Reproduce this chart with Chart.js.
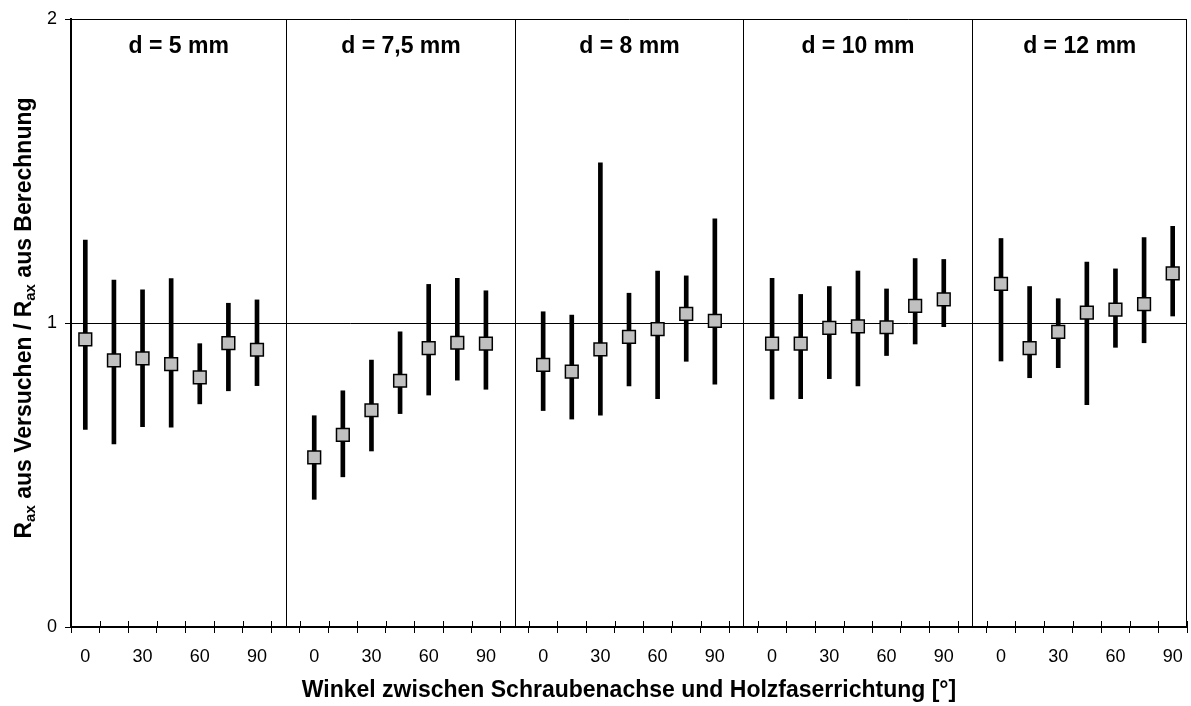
<!DOCTYPE html>
<html>
<head>
<meta charset="utf-8">
<script src="https://cdn.jsdelivr.net/npm/chart.js@4.4.0/dist/chart.umd.min.js"></script>
<style>
body { margin: 0; background: #fff; }
</style>
</head>
<body>
<canvas id="myChart" width="1191" height="706"></canvas>
<script>
var fontName = '"Liberation Sans", Arial, sans-serif';

var diameters = ['d = 5 mm', 'd = 7,5 mm', 'd = 8 mm', 'd = 10 mm', 'd = 12 mm'];
var angleLabels = ['0', '', '30', '', '60', '', '90'];   // 0, 15, 30 ... 90 degrees

// one row per diameter, one value per angle
var mittel = [
    [0.946, 0.877, 0.884, 0.865, 0.821, 0.934, 0.912],
    [0.558, 0.632, 0.713, 0.810, 0.917, 0.935, 0.932],
    [0.862, 0.840, 0.913, 0.954, 0.980, 1.030, 1.007],
    [0.932, 0.932, 0.984, 0.989, 0.986, 1.056, 1.078],
    [1.129, 0.917, 0.971, 1.034, 1.044, 1.062, 1.163]
];
var minimum = [
    [0.650, 0.602, 0.659, 0.657, 0.734, 0.777, 0.794],
    [0.420, 0.494, 0.579, 0.702, 0.763, 0.812, 0.782],
    [0.712, 0.684, 0.697, 0.793, 0.751, 0.874, 0.799],
    [0.750, 0.751, 0.817, 0.793, 0.893, 0.931, 0.988],
    [0.875, 0.820, 0.853, 0.731, 0.920, 0.935, 1.023]
];
var maximum = [
    [1.273, 1.141, 1.109, 1.146, 0.932, 1.065, 1.076],
    [0.695, 0.777, 0.878, 0.971, 1.127, 1.147, 1.106],
    [1.037, 1.026, 1.527, 1.098, 1.171, 1.155, 1.343],
    [1.147, 1.094, 1.120, 1.171, 1.112, 1.212, 1.209],
    [1.278, 1.120, 1.080, 1.200, 1.178, 1.281, 1.318]
];

// build the category axis: 7 angles per diameter, one empty slot as separator
var labels = [], mean = [], range = [], sepIdx = [];
for (var g = 0; g < diameters.length; g++) {
    for (var j = 0; j < angleLabels.length; j++) {
        labels.push(angleLabels[j]);
        mean.push(mittel[g][j]);
        range.push([minimum[g][j], maximum[g][j]]);
    }
    if (g < diameters.length - 1) {
        labels.push('');
        mean.push(null);
        range.push(null);
        sepIdx.push(labels.length - 1);
    }
}

// separators, frame, inner tick marks, group titles and y title
var deko = {
    id: 'deko',
    afterDraw: function(chart) {
        var c = chart.ctx, a = chart.chartArea, x = chart.scales.x;
        c.save();
        c.strokeStyle = '#000';
        c.lineWidth = 1;
        var edges = [a.left];
        sepIdx.forEach(function(i) {
            var px = Math.round(x.getPixelForValue(i)) + 0.5;
            edges.push(px);
            c.beginPath(); c.moveTo(px, a.top); c.lineTo(px, a.bottom); c.stroke();
        });
        edges.push(a.right);
        // right frame
        c.beginPath(); c.moveTo(a.right - 0.5, a.top); c.lineTo(a.right - 0.5, a.bottom); c.stroke();
        // ticks crossing into the plot
        var step = (a.right - a.left) / labels.length;
        for (var k = 0; k <= labels.length; k++) {
            var tx = Math.round(a.left + k * step) + 0.5;
            c.beginPath(); c.moveTo(tx, a.bottom - 6); c.lineTo(tx, a.bottom); c.stroke();
        }

        c.fillStyle = '#000';
        c.textAlign = 'center';
        c.textBaseline = 'middle';
        c.font = 'bold 23px ' + fontName;
        diameters.forEach(function(d, g) {
            c.fillText(d, (edges[g] + edges[g + 1]) / 2, 47);
        });

        // y axis title with subscripts
        var parts = [
            ['R', 0], ['ax', 1], [' aus Versuchen / R', 0], ['ax', 1], [' aus Berechnung', 0]
        ];
        var big = 'bold 23px ' + fontName, small = 'bold 15px ' + fontName;
        var total = 0;
        parts.forEach(function(p) { c.font = p[1] ? small : big; total += c.measureText(p[0]).width; });
        c.translate(23, 318);
        c.rotate(-Math.PI / 2);
        c.textAlign = 'left';
        c.textBaseline = 'alphabetic';
        var pos = -total / 2;
        parts.forEach(function(p) {
            c.font = p[1] ? small : big;
            c.fillText(p[0], pos, p[1] ? 12 : 8);
            pos += c.measureText(p[0]).width;
        });
        c.restore();
    }
};

const ctx = document.getElementById('myChart');
const myChart = new Chart(ctx, {
    type: 'bar',
    data: {
        labels: labels,
        datasets: [{
            type: 'line',
            label: 'Mittelwert',
            data: mean,
            showLine: false,
            pointStyle: 'rect',
            pointRadius: 9,
            pointBackgroundColor: '#c0c0c0',
            pointBorderColor: '#000',
            pointBorderWidth: 1.5,
            order: 0
        }, {
            type: 'bar',
            label: 'Min - Max',
            data: range,
            backgroundColor: '#000',
            barThickness: 4,
            order: 1
        }]
    },
    options: {
        responsive: false,
        animation: false,
        layout: { autoPadding: false, padding: { top: 19, right: 4, left: 0, bottom: 0 } },
        plugins: {
            legend: { display: false },
            tooltip: { enabled: false }
        },
        scales: {
            x: {
                grid: { drawOnChartArea: false, color: '#000', tickLength: 6, lineWidth: 1 },
                border: { color: '#000', width: 2 },
                ticks: { autoSkip: false, maxRotation: 0, color: '#000', padding: 13, font: { family: fontName, size: 18 } },
                title: {
                    display: true,
                    text: 'Winkel zwischen Schraubenachse und Holzfaserrichtung [°]',
                    color: '#000',
                    font: { family: fontName, size: 23, weight: 'bold' },
                    padding: { top: 4, bottom: 2 }
                },
                afterFit: function(s) { s.height = 79; s.paddingLeft = 0; s.paddingRight = 0; }
            },
            y: {
                min: 0,
                max: 2,
                ticks: { stepSize: 1, color: '#000', padding: 8, font: { family: fontName, size: 18 } },
                grid: { color: '#000', lineWidth: 1, tickLength: 6 },
                border: { color: '#000', width: 2 },
                afterFit: function(s) { s.width = 71; }
            }
        }
    },
    plugins: [deko]
});
</script>
</body>
</html>
